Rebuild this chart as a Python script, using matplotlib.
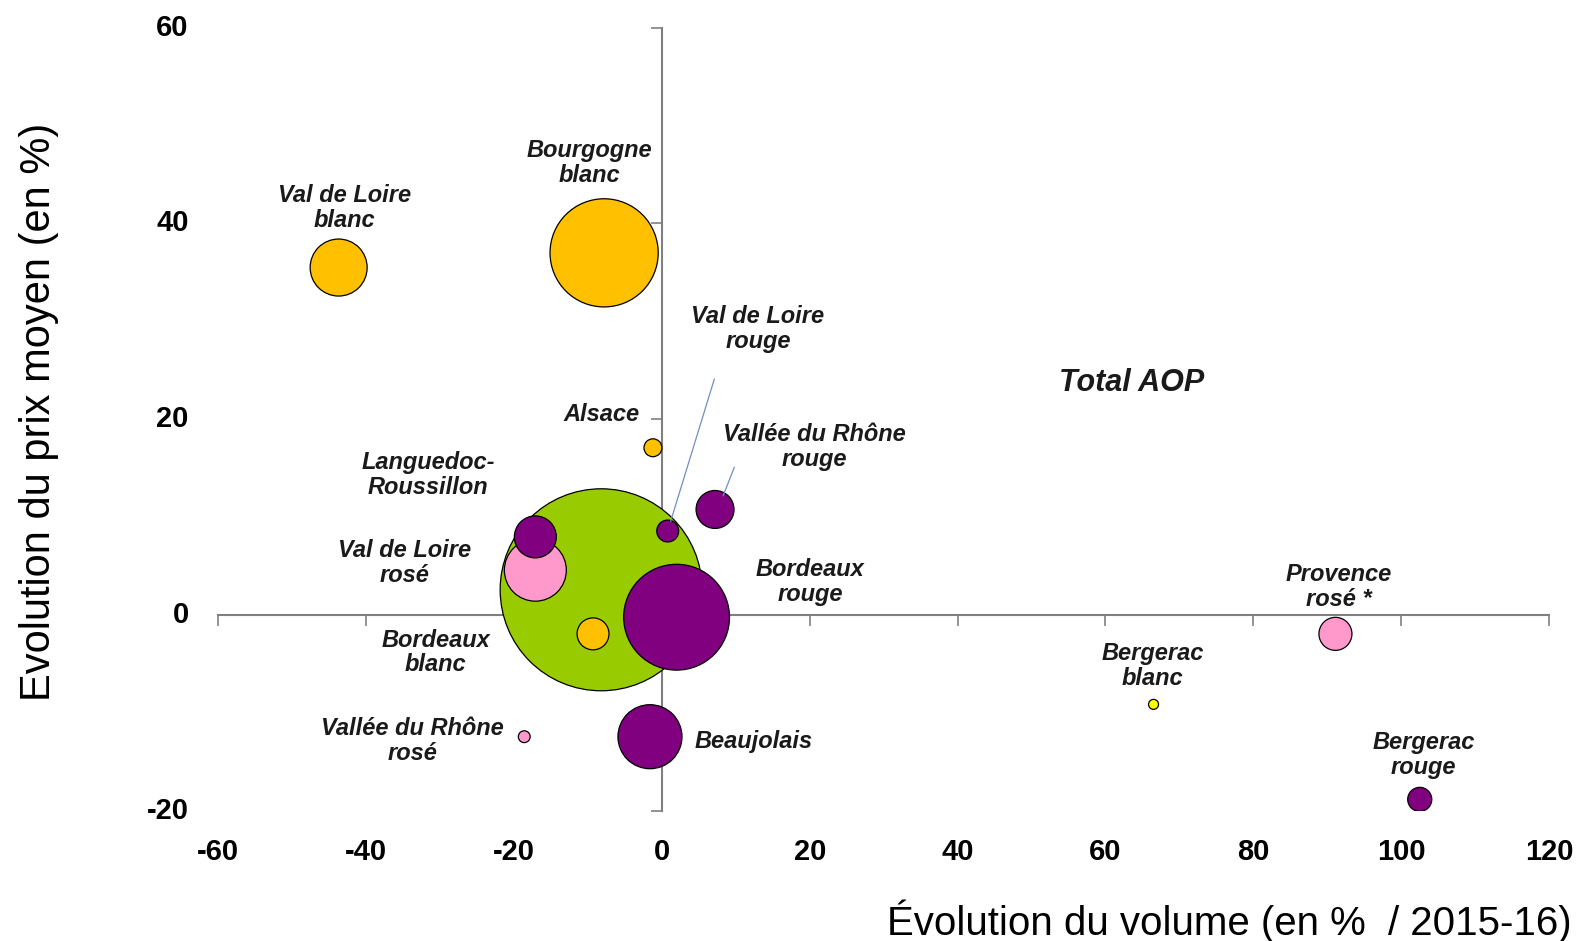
import matplotlib.pyplot as plt
from matplotlib import transforms

# Data
names = ['Languedoc-Roussillon', 'Val de Loire blanc', 'Bourgogne blanc', 'Alsace',
         'Val de Loire rosé', 'Languedoc rouge', 'Val de Loire rouge', 'Vallée du Rhône rouge',
         'Bordeaux blanc', 'Bordeaux rouge', 'Beaujolais', 'Vallée du Rhône rosé',
         'Bergerac blanc', 'Provence rosé', 'Bergerac rouge']
vol_change = [-8.2, -43.7, -7.8, -1.2, -17.1, -17.1, 0.8, 7.2, -9.3, 2.0, -1.6, -18.6, 66.5, 91.1, 102.5]
price_change = [2.6, 35.5, 37.0, 17.1, 4.6, 8.0, 8.6, 10.8, -1.9, -0.2, -12.4, -12.4, -9.1, -1.9, -18.8]
volumes = [408, 32.5, 117, 3.2, 38.4, 17.6, 4.8, 14.4, 10.2, 112, 41, 1.4, 1.0, 10.9, 5.8]
colors = ['#99CC00', '#FFC000', '#FFC000', '#FFC000', '#FF99CC', '#800080', '#800080', '#800080',
          '#FFC000', '#800080', '#800080', '#FF99CC', '#FFFF00', '#FF99CC', '#800080']

labels = ['Val de Loire\nblanc', 'Bourgogne\nblanc', 'Val de Loire\nrouge', 'Alsace',
          'Vallée du Rhône\nrouge', 'Languedoc-\nRoussillon', 'Val de Loire\nrosé', 'Bordeaux\nrouge',
          'Bordeaux\nblanc', 'Vallée du Rhône\nrosé', 'Beaujolais', 'Provence\nrosé *',
          'Bergerac\nblanc', 'Bergerac\nrouge']
label_x = [-42.9, -9.8, 13.0, -8.1, 20.6, -31.6, -34.8, 20.1, -30.6, -33.7, 12.4, 91.5, 66.4, 103.0]
label_y = [41.6, 46.2, 29.2, 20.5, 17.2, 14.3, 5.3, 3.4, -3.8, -12.8, -12.9, 2.9, -5.2, -14.3]

xticks = [-60, -40, -20, 0, 20, 40, 60, 80, 100, 120]
yticks = [-20, 0, 20, 40, 60]

plt.rcParams['font.family'] = ['Liberation Sans', 'DejaVu Sans']

fig = plt.figure(figsize=(15.84, 9.41), dpi=100)
ax = fig.add_axes([0.1377, 0.138, 0.8403, 0.8327])
ax.set_xlim(-60, 120)
ax.set_ylim(-20, 60)

# bubbles (diameter^2/100 stored as volumes, converted to points^2)
sizes = [v * 100 * 0.72 ** 2 for v in volumes]
ax.scatter(vol_change, price_change, s=sizes, c=colors, edgecolors='black', linewidths=0.9, zorder=3)

# axes crossing at zero
for side in ['top', 'right']:
    ax.spines[side].set_visible(False)
ax.spines['left'].set_position(('data', 0))
ax.spines['bottom'].set_position(('data', 0))
for side in ['left', 'bottom']:
    ax.spines[side].set_color('#808080')
    ax.spines[side].set_linewidth(1.5)
ax.set_xticks(xticks)
ax.set_yticks(yticks)
ax.tick_params(direction='out', length=8, width=1.2, color='#808080', labelbottom=False, labelleft=False)

# tick labels kept at the outer edges of the plot
tx = transforms.blended_transform_factory(ax.transData, ax.transAxes)
ty = transforms.blended_transform_factory(ax.transAxes, ax.transData)
for t in xticks:
    ax.text(t, -0.052, str(t), transform=tx, ha='center', va='center', fontsize=21, fontweight='bold')
for t in yticks:
    ax.text(-0.022, t, str(t), transform=ty, ha='right', va='center', fontsize=21, fontweight='bold')

# bubble labels
for lab, lx, ly in zip(labels, label_x, label_y):
    ax.text(lx, ly, lab, ha='center', va='center', fontsize=17, fontweight='bold',
            fontstyle='italic', linespacing=1.1, color='#1a1a1a', zorder=4)
ax.text(63.5, 23.7, 'Total AOP', ha='center', va='center', fontsize=22, fontweight='bold',
        fontstyle='italic', color='#1a1a1a')

# leader lines
ax.plot([7.1, 1.2], [24.1, 9.6], color='#7090C0', linewidth=0.9, zorder=5)
ax.plot([9.8, 8.3], [15.1, 12.2], color='#7090C0', linewidth=0.9, zorder=5)

fig.text(0.0245, 0.562, 'Evolution du prix moyen (en %)', rotation=90, ha='center', va='center', fontsize=30)
fig.text(0.992, 0.021, 'Évolution du volume (en %  / 2015-16)', ha='right', va='center', fontsize=29)

fig.savefig('out.png', dpi=100)
